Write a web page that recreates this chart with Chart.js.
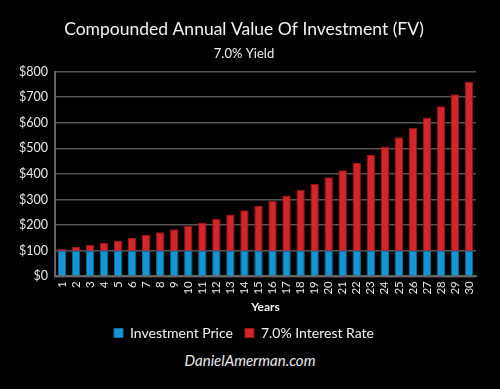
<!DOCTYPE html>
<html>
<head>
<meta charset="utf-8">
<script src="https://cdn.jsdelivr.net/npm/chart.js@4/dist/chart.umd.min.js"></script>
<style>
  html, body { margin:0; padding:0; background:#000; }
  #wrap { position:relative; width:500px; height:389px; background:#000; }
  #c { position:absolute; left:0; top:0; }
  #footer { position:absolute; left:0; width:500px; top:351px; text-align:center;
    color:#e8e8e8; font-family:Lato, sans-serif; font-style:italic; font-size:15px; }
</style>
</head>
<body>
<div id="wrap">
  <canvas id="c" width="500" height="350"></canvas>
  <div id="footer">DanielAmerman.com</div>
</div>
<script>
const years = ["1","2","3","4","5","6","7","8","9","10","11","12","13","14","15","16","17","18","19","20","21","22","23","24","25","26","27","28","29","30"];
const investmentPrice = [100,100,100,100,100,100,100,100,100,100,100,100,100,100,100,100,100,100,100,100,100,100,100,100,100,100,100,100,100,100];
const interestGain = [7,14,23,31,40,50,61,72,84,97,110,125,141,158,176,195,216,238,262,287,314,343,374,407,443,481,521,565,611,661];
const yTicks = [0,100,200,300,400,500,600,700,800];

const FONT = 'Lato, sans-serif';
new Chart(document.getElementById('c'), {
  type: 'bar',
  data: {
    labels: years,
    datasets: [
      { label: 'Investment Price', data: investmentPrice, backgroundColor: '#1496d4', borderColor: '#0b6fa3', borderWidth: 1, categoryPercentage: 0.6, barPercentage: 1 },
      { label: '7.0% Interest Rate', data: interestGain, backgroundColor: '#d3262a', borderColor: '#9e1519', borderWidth: 1, categoryPercentage: 0.6, barPercentage: 1 }
    ]
  },
  options: {
    responsive: false,
    animation: false,
    layout: { padding: { left: 12, right: 24, top: 0, bottom: 0 } },
    plugins: {
      title: { display: true, text: 'Compounded Annual Value Of Investment (FV)', color: '#f2f2f2',
        font: { family: FONT, size: 17.5, weight: 'normal' }, padding: { top: 19, bottom: 6 } },
      subtitle: { display: true, text: '7.0% Yield', color: '#f2f2f2',
        font: { family: FONT, size: 13, weight: 'normal' }, padding: { bottom: 10 } },
      legend: { position: 'bottom', labels: { color: '#f2f2f2', boxWidth: 9, boxHeight: 9,
        font: { family: FONT, size: 14 }, padding: 12 } },
      tooltip: { enabled: false }
    },
    scales: {
      x: { stacked: true,
        grid: { display: false, drawTicks: false },
        border: { color: '#666', width: 2 },
        ticks: { color: '#e8e8e8', minRotation: 90, maxRotation: 90, autoSkip: false,
          font: { family: FONT, size: 11.5 }, padding: 5 },
        title: { display: true, text: 'Years', color: '#f2f2f2', font: { family: FONT, size: 12, weight: 'bold' }, padding: { top: 0, bottom: 0 } }
      },
      y: { stacked: true, min: 0, max: 800,
        afterBuildTicks: (ax) => { ax.ticks = yTicks.map(v => ({ value: v })); },
        grid: { color: '#555', lineWidth: 1.5, drawTicks: false },
        border: { color: '#666', width: 2 },
        ticks: { color: '#e8e8e8', font: { family: FONT, size: 12.5 }, padding: 7,
          callback: v => '$' + v }
      }
    }
  }
});
</script>
</body>
</html>
